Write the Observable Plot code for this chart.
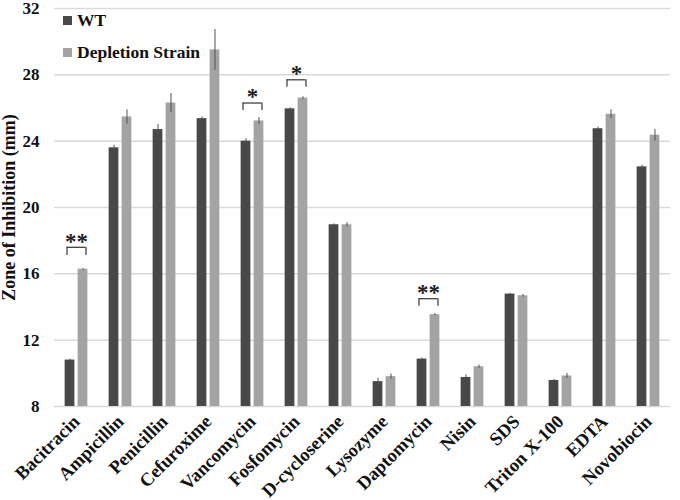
<!DOCTYPE html>
<html>
<head>
<meta charset="utf-8">
<script src="https://cdn.jsdelivr.net/npm/d3@7"></script>
<script src="https://cdn.jsdelivr.net/npm/@observablehq/plot@0.6"></script>
<style>
  html, body { margin: 0; padding: 0; background: #fff; }
  #wrap { position: relative; width: 680px; height: 500px; font-family: "Liberation Serif", "Times New Roman", serif; font-weight: bold; }
  #legend { position: absolute; left: 63px; top: 4px; font-size: 17.5px; color: #111; }
  .item { display: flex; align-items: center; height: 32px; }
  .sw { width: 9px; height: 9px; margin-right: 5px; }
  #chart [aria-label^="fx-axis"] text { font-size: 18.5px; }
  #chart [aria-label="y-axis label"] text { font-size: 18px; }
</style>
</head>
<body>
<div id="wrap">
  <div id="chart"></div>
  <div id="legend"></div>
</div>
<script>
const categories = ["Bacitracin","Ampicillin","Penicillin","Cefuroxime","Vancomycin","Fosfomycin","D-cycloserine","Lysozyme","Daptomycin","Nisin","SDS","Triton X-100","EDTA","Novobiocin"];
const series = ["WT", "Depletion Strain"];
const colors = ["#484848", "#a3a3a3"];
const wt     = [10.8, 23.6, 24.7, 25.36, 24.0, 25.95, 18.96, 9.5, 10.86, 9.75, 14.78, 9.57, 24.75, 22.45];
const wtErr  = [0.06, 0.15, 0.3, 0.1, 0.15, 0.06, 0.05, 0.2, 0.06, 0.16, 0.05, 0.06, 0.1, 0.1];
const dep    = [16.28, 25.46, 26.3, 29.5, 25.22, 26.6, 18.96, 9.8, 13.54, 10.4, 14.68, 9.84, 25.62, 24.36];
const depErr = [0.05, 0.43, 0.57, 1.23, 0.2, 0.08, 0.12, 0.15, 0.06, 0.1, 0.08, 0.15, 0.27, 0.35];
const yTicks = [8, 12, 16, 20, 24, 28, 32];

const sigCategories = ["Bacitracin", "Vancomycin", "Fosfomycin", "Daptomycin"];
const sigLabels = ["**", "*", "*", "**"];
const bracketTop = [17.6, 26.3, 27.7, 14.5];
const bracketLow = [17.1, 25.85, 27.25, 14.05];

const rows = categories.flatMap((c, i) => [
  {category: c, series: series[0], value: wt[i], err: wtErr[i]},
  {category: c, series: series[1], value: dep[i], err: depErr[i]}
]);
const brackets = sigCategories.map((c, i) => ({category: c, top: bracketTop[i], low: bracketLow[i], label: sigLabels[i]}));

const chart = Plot.plot({
  width: 680,
  height: 500,
  marginTop: 8,
  marginBottom: 94,
  marginLeft: 48,
  marginRight: 4,
  style: {fontFamily: "Liberation Serif, 'Times New Roman', serif", fontWeight: "bold", fontSize: "17px", color: "#111", background: "#fff"},
  fx: {domain: categories, padding: 0, axis: "bottom", label: null, tickRotate: -45, tickSize: 0, tickPadding: 12},
  x: {domain: series, axis: null, paddingInner: 0.25, paddingOuter: 0.82, round: false},
  y: {domain: [8, 32], ticks: yTicks, tickSize: 0, tickPadding: 15, label: "Zone of Inhibition (mm)", labelAnchor: "center", labelOffset: 52, labelArrow: "none"},
  color: {domain: series, range: colors},
  marks: [
    Plot.gridY(yTicks, {stroke: "#d9d9d9", strokeOpacity: 1, strokeWidth: 1.5}),
    Plot.barY(rows, {fx: "category", x: "series", y1: 8, y2: "value", fill: "series"}),
    Plot.ruleX(rows, {fx: "category", x: "series", y1: d => d.value - d.err, y2: d => d.value + d.err, stroke: "#505050", strokeWidth: 1}),
    Plot.ruleY(brackets, {fx: "category", y: "top", x1: () => series[0], x2: () => series[1], insetLeft: 2, insetRight: 2, stroke: "#333", strokeWidth: 1.2}),
    Plot.ruleX(brackets, {fx: "category", x: () => series[0], y1: "low", y2: "top", dx: -3, stroke: "#333", strokeWidth: 1.2}),
    Plot.ruleX(brackets, {fx: "category", x: () => series[1], y1: "low", y2: "top", dx: 3, stroke: "#333", strokeWidth: 1.2}),
    Plot.text(brackets, {fx: "category", y: "top", text: "label", dy: -6, fontSize: 23, fontWeight: "bold", fill: "#222"})
  ]
});
document.getElementById("chart").appendChild(chart);

const legend = document.getElementById("legend");
series.forEach((s, i) => {
  const item = document.createElement("div");
  item.className = "item";
  const sw = document.createElement("span");
  sw.className = "sw";
  sw.style.background = colors[i];
  const t = document.createElement("span");
  t.textContent = s;
  item.appendChild(sw);
  item.appendChild(t);
  legend.appendChild(item);
});
</script>
</body>
</html>
